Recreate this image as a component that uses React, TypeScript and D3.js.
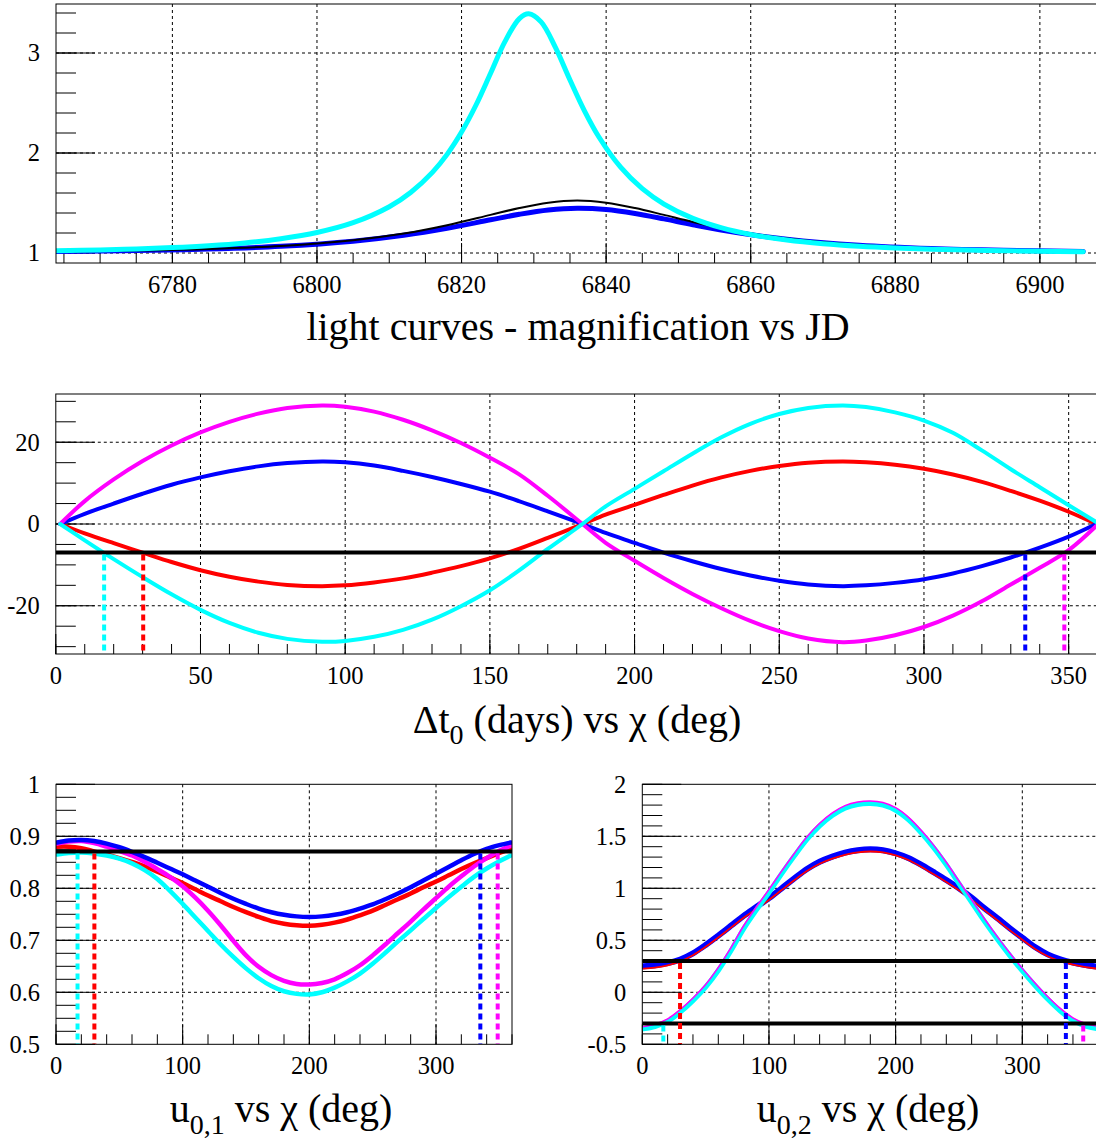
import React from 'react';
import * as d3 from 'd3';

const W = 1096;
const H = 1142;
const FONT = '"Liberation Serif", "Times New Roman", Times, serif';

// ---------- Top panel: light curves ----------
const jdCyan = [6764, 6770, 6775, 6780, 6785, 6790, 6795, 6800, 6805, 6810, 6813, 6816, 6818, 6820, 6822, 6824, 6826, 6828, 6829.3, 6831, 6833, 6835, 6837, 6839, 6842, 6845, 6848, 6852, 6856, 6860, 6865, 6870, 6875, 6880, 6885, 6890, 6895, 6900, 6906];
const magCyan = [1.023, 1.031, 1.041, 1.054, 1.073, 1.101, 1.143, 1.205, 1.303, 1.463, 1.608, 1.809, 1.986, 2.209, 2.48, 2.795, 3.114, 3.344, 3.392, 3.311, 3.053, 2.73, 2.422, 2.16, 1.858, 1.643, 1.489, 1.346, 1.251, 1.185, 1.129, 1.092, 1.067, 1.05, 1.038, 1.029, 1.023, 1.018, 1.013];
const jdModel = [6764, 6775, 6785, 6795, 6805, 6812, 6818, 6824, 6828, 6832, 6836, 6840, 6844, 6848, 6852, 6858, 6865, 6875, 6885, 6895, 6906];
const magBlue = [1.015, 1.024, 1.039, 1.067, 1.118, 1.177, 1.247, 1.332, 1.387, 1.43, 1.448, 1.435, 1.395, 1.341, 1.283, 1.205, 1.138, 1.078, 1.045, 1.027, 1.016];
const magBlack = [1.015, 1.025, 1.041, 1.071, 1.128, 1.195, 1.278, 1.381, 1.45, 1.503, 1.524, 1.503, 1.45, 1.381, 1.31, 1.22, 1.145, 1.08, 1.046, 1.028, 1.017];
const topXTicks = [6780, 6800, 6820, 6840, 6860, 6880, 6900];
const topYTicks = [1, 2, 3];

// ---------- Middle panel: delta t0 vs chi ----------
const chiMid = [1.5, 10, 20, 30, 40, 50, 60, 70, 80, 92, 100, 110, 120, 130, 140, 150, 160, 170, 182, 190, 200, 210, 220, 230, 240, 250, 260, 272, 280, 290, 300, 310, 320, 330, 340, 350, 359.5];
const dtMagenta = [0, 5.6, 10.9, 15.4, 19.2, 22.4, 25.0, 27.0, 28.4, 29.0, 28.7, 27.5, 25.5, 22.9, 19.8, 16.2, 12.2, 6.9, 0, -4.6, -9.0, -13.2, -17.1, -20.6, -23.7, -26.2, -28.0, -28.9, -28.5, -27.2, -25.2, -22.4, -18.9, -14.8, -10.7, -6.4, -0.5];
const dtBlue = [0, 2.5, 5.0, 7.4, 9.6, 11.4, 12.9, 14.1, 14.9, 15.3, 15.1, 14.3, 13.0, 11.5, 9.8, 7.9, 5.6, 3.1, 0, -2.2, -4.6, -7.0, -9.1, -11.0, -12.6, -13.9, -14.8, -15.2, -15.0, -14.4, -13.5, -12.1, -10.3, -8.2, -5.8, -3.1, 0];
const dtRed = [0, -2.3, -4.7, -7.0, -9.3, -11.3, -12.9, -14.1, -14.9, -15.2, -15.0, -14.3, -13.3, -11.9, -10.3, -8.4, -6.1, -3.4, 0, 2.3, 4.7, 7.1, 9.4, 11.4, 13.0, 14.2, 15.0, 15.3, 15.1, 14.5, 13.5, 12.1, 10.3, 8.1, 5.7, 3.0, 0];
const dtCyan = [0, -4.0, -8.6, -13.0, -17.2, -21.0, -24.2, -26.6, -28.1, -28.8, -28.6, -27.6, -25.9, -23.4, -20.1, -16.2, -11.4, -6.1, 0, 4.3, 8.6, 12.9, 17.2, 21.2, 24.5, 26.9, 28.4, 29.0, 28.6, 27.3, 25.3, 22.3, 18.0, 13.4, 9.0, 4.6, 0.5];
const dtLevel = -7;
const dtDropChi = [16.7, 30.2, 335.0, 348.5];
const midXTicks = [0, 50, 100, 150, 200, 250, 300, 350];
const midYTicks = [-20, 0, 20];

// ---------- Bottom-left: u0,1 vs chi ----------
const chiLow = [1, 10, 20, 30, 40, 50, 60, 70, 80, 90, 100, 110, 120, 130, 140, 150, 160, 170, 180, 190, 200, 210, 220, 230, 240, 250, 260, 270, 280, 290, 300, 310, 320, 330, 340, 350, 359];
const u1Blue = [0.888, 0.892, 0.893, 0.891, 0.886, 0.879, 0.87, 0.86, 0.849, 0.838, 0.827, 0.815, 0.803, 0.791, 0.78, 0.77, 0.761, 0.754, 0.749, 0.746, 0.745, 0.746, 0.749, 0.754, 0.761, 0.769, 0.779, 0.79, 0.802, 0.815, 0.828, 0.841, 0.854, 0.866, 0.876, 0.883, 0.888];
const u1Red = [0.88, 0.88, 0.877, 0.871, 0.865, 0.858, 0.851, 0.842, 0.832, 0.821, 0.81, 0.798, 0.786, 0.775, 0.764, 0.754, 0.745, 0.737, 0.732, 0.729, 0.728, 0.73, 0.734, 0.74, 0.748, 0.757, 0.768, 0.779, 0.79, 0.802, 0.813, 0.825, 0.837, 0.848, 0.858, 0.868, 0.876];
const u1Magenta = [0.886, 0.89, 0.891, 0.887, 0.88, 0.872, 0.863, 0.851, 0.837, 0.822, 0.804, 0.782, 0.757, 0.729, 0.699, 0.671, 0.649, 0.633, 0.622, 0.616, 0.615, 0.618, 0.625, 0.637, 0.652, 0.671, 0.692, 0.714, 0.736, 0.759, 0.781, 0.803, 0.823, 0.842, 0.858, 0.872, 0.882];
const u1Cyan = [0.865, 0.868, 0.869, 0.867, 0.863, 0.857, 0.848, 0.835, 0.818, 0.795, 0.77, 0.744, 0.718, 0.692, 0.668, 0.646, 0.627, 0.612, 0.602, 0.597, 0.596, 0.6, 0.609, 0.621, 0.636, 0.655, 0.676, 0.698, 0.719, 0.741, 0.762, 0.783, 0.803, 0.822, 0.838, 0.852, 0.863];
const u1Level = 0.871;
const u1DropChi = [17, 30.3, 335, 348.7];
const lowXTicks = [0, 100, 200, 300];
const u1YTicks = [0.5, 0.6, 0.7, 0.8, 0.9, 1];

// ---------- Bottom-right: u0,2 vs chi ----------
const u2Blue = [0.25, 0.26, 0.28, 0.315, 0.375, 0.455, 0.545, 0.64, 0.735, 0.82, 0.905, 1.0, 1.095, 1.185, 1.255, 1.305, 1.343, 1.366, 1.375, 1.366, 1.337, 1.292, 1.228, 1.155, 1.08, 1.0, 0.91, 0.81, 0.715, 0.618, 0.525, 0.435, 0.365, 0.318, 0.285, 0.262, 0.247];
const u2Red = [0.228, 0.238, 0.26, 0.298, 0.357, 0.437, 0.527, 0.622, 0.716, 0.801, 0.888, 0.983, 1.077, 1.166, 1.236, 1.285, 1.322, 1.345, 1.354, 1.345, 1.317, 1.272, 1.208, 1.135, 1.06, 0.98, 0.89, 0.79, 0.695, 0.598, 0.506, 0.416, 0.347, 0.3, 0.266, 0.242, 0.228];
const u2Cyan = [-0.35, -0.33, -0.28, -0.19, -0.08, 0.05, 0.21, 0.4, 0.61, 0.79, 0.96, 1.14, 1.31, 1.47, 1.6, 1.7, 1.77, 1.806, 1.815, 1.8, 1.75, 1.66, 1.535, 1.39, 1.225, 1.045, 0.865, 0.685, 0.515, 0.355, 0.205, 0.065, -0.065, -0.18, -0.27, -0.325, -0.35];
const u2Magenta = [-0.33, -0.305, -0.255, -0.165, -0.055, 0.075, 0.24, 0.43, 0.64, 0.82, 0.99, 1.165, 1.335, 1.495, 1.625, 1.725, 1.795, 1.83, 1.84, 1.825, 1.775, 1.685, 1.56, 1.415, 1.25, 1.07, 0.89, 0.71, 0.54, 0.38, 0.23, 0.09, -0.04, -0.155, -0.245, -0.3, -0.325];
const u2Levels = [0.3, -0.3];
const u2DropChi = [16.6, 29.8, 334.4, 348.1];
const u2DropLevel = [-0.3, 0.3, 0.3, -0.3];
const u2YTicks = [-0.5, 0, 0.5, 1, 1.5, 2];

const CYAN = '#00ffff';
const MAGENTA = '#ff00ff';
const BLUE = '#0000ff';
const RED = '#ff0000';
const dropColors = [CYAN, RED, BLUE, MAGENTA];

type Series = { xs: number[]; ys: number[]; color: string; width: number };
type Drop = { x: number; from: number; color: string };

type PanelProps = {
  id: string;
  left: number; right: number; top: number; bottom: number;
  xDomain: [number, number]; yDomain: [number, number];
  xMajor: number[]; xMinor: number[]; yMajor: number[]; yMinor: number[];
  xFmt: (v: number) => string; yFmt: (v: number) => string;
  series: Series[]; hLines: number[]; drops: Drop[];
};

function Panel(p: PanelProps) {
  const x = d3.scaleLinear().domain(p.xDomain).range([p.left, p.right]);
  const y = d3.scaleLinear().domain(p.yDomain).range([p.bottom, p.top]);
  const eps = 1e-6;
  const inX = (v: number) => v >= p.xDomain[0] - eps && v <= p.xDomain[1] + eps;
  const inY = (v: number) => v >= p.yDomain[0] - eps && v <= p.yDomain[1] + eps;
  const gridX = p.xMajor.filter((v) => x(v) > p.left + 1 && x(v) < p.right - 1);
  const gridY = p.yMajor.filter((v) => y(v) < p.bottom - 1 && y(v) > p.top + 1);
  const line = (s: Series) =>
    d3.line<number>()
      .x((_, i) => x(s.xs[i]))
      .y((d) => y(d))
      .curve(d3.curveCatmullRom.alpha(0.5))(s.ys) || '';
  return (
    <g>
      <defs>
        <clipPath id={p.id}>
          <rect x={p.left} y={p.top} width={p.right - p.left} height={p.bottom - p.top} />
        </clipPath>
      </defs>
      {gridX.map((v) => (
        <line key={'gx' + v} x1={x(v)} x2={x(v)} y1={p.top} y2={p.bottom} stroke="#000" strokeWidth={1} strokeDasharray="3,3" />
      ))}
      {gridY.map((v) => (
        <line key={'gy' + v} x1={p.left} x2={p.right} y1={y(v)} y2={y(v)} stroke="#000" strokeWidth={1} strokeDasharray="3,3" />
      ))}
      {p.yMinor.filter(inY).map((v) => (
        <line key={'ymi' + v} x1={p.left} x2={p.left + 20} y1={y(v)} y2={y(v)} stroke="#000" strokeWidth={1} />
      ))}
      {p.yMajor.filter(inY).map((v) => (
        <line key={'yma' + v} x1={p.left} x2={p.left + 39} y1={y(v)} y2={y(v)} stroke="#000" strokeWidth={1} />
      ))}
      {p.xMinor.filter(inX).map((v) => (
        <line key={'xmi' + v} x1={x(v)} x2={x(v)} y1={p.bottom} y2={p.bottom - 10} stroke="#000" strokeWidth={1} />
      ))}
      {p.xMajor.filter(inX).map((v) => (
        <line key={'xma' + v} x1={x(v)} x2={x(v)} y1={p.bottom} y2={p.bottom - 20} stroke="#000" strokeWidth={1} />
      ))}
      <g clipPath={`url(#${p.id})`}>
        {p.series.map((s, i) => (
          <path key={'s' + i} d={line(s)} fill="none" stroke={s.color} strokeWidth={s.width} strokeLinejoin="round" strokeLinecap="round" />
        ))}
        {p.hLines.map((v, i) => (
          <line key={'h' + i} x1={p.left} x2={p.right} y1={y(v)} y2={y(v)} stroke="#000" strokeWidth={4} />
        ))}
        {p.drops.map((d, i) => (
          <line key={'d' + i} x1={x(d.x)} x2={x(d.x)} y1={y(d.from) + 2} y2={p.bottom} stroke={d.color} strokeWidth={4} strokeDasharray="6,4" />
        ))}
      </g>
      <rect x={p.left} y={p.top} width={p.right - p.left} height={p.bottom - p.top} fill="none" stroke="#000" strokeWidth={1} />
      {p.yMajor.filter(inY).map((v) => (
        <text key={'yl' + v} x={p.left - 16} y={y(v)} dy="0.34em" textAnchor="end" fontSize={24.5} fontFamily={FONT}>
          {p.yFmt(v)}
        </text>
      ))}
      {p.xMajor.filter(inX).map((v) => (
        <text key={'xl' + v} x={x(v)} y={p.bottom + 30} textAnchor="middle" fontSize={24.5} fontFamily={FONT}>
          {p.xFmt(v)}
        </text>
      ))}
    </g>
  );
}

const fmt = (v: number) => String(v);

export default function App() {
  const top: PanelProps = {
    id: 'clipTop', left: 56, right: 1097, top: 4, bottom: 263,
    xDomain: [6763.9, 6907.9], yDomain: [0.9, 3.49],
    xMajor: topXTicks, xMinor: d3.range(6765, 6910, 5), yMajor: topYTicks, yMinor: d3.range(1.2, 3.5, 0.2),
    xFmt: fmt, yFmt: fmt,
    series: [
      { xs: jdModel, ys: magBlue, color: BLUE, width: 5 },
      { xs: jdModel, ys: magBlack, color: '#000', width: 2 },
      { xs: jdCyan, ys: magCyan, color: CYAN, width: 5 },
    ],
    hLines: [], drops: [],
  };
  const mid: PanelProps = {
    id: 'clipMid', left: 55.8, right: 1097.6, top: 394, bottom: 654,
    xDomain: [0, 360], yDomain: [-31.8, 31.8],
    xMajor: midXTicks, xMinor: d3.range(0, 361, 10), yMajor: midYTicks, yMinor: d3.range(-30, 31, 5),
    xFmt: fmt, yFmt: fmt,
    series: [
      { xs: chiMid, ys: dtRed, color: RED, width: 4 },
      { xs: chiMid, ys: dtBlue, color: BLUE, width: 4 },
      { xs: chiMid, ys: dtMagenta, color: MAGENTA, width: 4 },
      { xs: chiMid, ys: dtCyan, color: CYAN, width: 4 },
    ],
    hLines: [dtLevel],
    drops: dtDropChi.map((c, i) => ({ x: c, from: dtLevel, color: dropColors[i] })),
  };
  const bl: PanelProps = {
    id: 'clipBL', left: 56, right: 512, top: 784.3, bottom: 1044.3,
    xDomain: [0, 360], yDomain: [0.5, 1],
    xMajor: lowXTicks, xMinor: d3.range(0, 361, 20), yMajor: u1YTicks, yMinor: d3.range(0.5, 1.001, 0.025),
    xFmt: fmt, yFmt: (v) => (v === 1 ? '1' : v.toFixed(1)),
    series: [
      { xs: chiLow, ys: u1Red, color: RED, width: 4.5 },
      { xs: chiLow, ys: u1Magenta, color: MAGENTA, width: 4.5 },
      { xs: chiLow, ys: u1Cyan, color: CYAN, width: 4.5 },
      { xs: chiLow, ys: u1Blue, color: BLUE, width: 4.5 },
    ],
    hLines: [u1Level],
    drops: u1DropChi.map((c, i) => ({ x: c, from: u1Level, color: dropColors[i] })),
  };
  const br: PanelProps = {
    id: 'clipBR', left: 642.3, right: 1098.3, top: 784.3, bottom: 1044.3,
    xDomain: [0, 360], yDomain: [-0.5, 2],
    xMajor: lowXTicks, xMinor: d3.range(0, 361, 20), yMajor: u2YTicks, yMinor: d3.range(-0.5, 2.001, 0.1),
    xFmt: fmt, yFmt: fmt,
    series: [
      { xs: chiLow, ys: u2Blue, color: BLUE, width: 6 },
      { xs: chiLow, ys: u2Red, color: RED, width: 1.8 },
      { xs: chiLow, ys: u2Cyan, color: CYAN, width: 5 },
      { xs: chiLow, ys: u2Magenta, color: MAGENTA, width: 1.5 },
    ],
    hLines: u2Levels,
    drops: u2DropChi.map((c, i) => ({ x: c, from: u2DropLevel[i], color: dropColors[i] })),
  };
  return (
    <div style={{ position: 'absolute', left: 0, top: 0 }}>
      <svg width={W} height={H} style={{ display: 'block', background: '#fff' }} fontFamily={FONT}>
        <rect x={0} y={0} width={W} height={H} fill="#fff" />
        <Panel {...top} />
        <Panel {...mid} />
        <Panel {...bl} />
        <Panel {...br} />
        <text x={578} y={340} textAnchor="middle" fontSize={40} fontFamily={FONT}>
          light curves - magnification vs JD
        </text>
        <text x={577} y={733} textAnchor="middle" fontSize={40} fontFamily={FONT}>
          <tspan>Δt</tspan>
          <tspan dy={11} fontSize={28}>0</tspan>
          <tspan dy={-11}> (days) vs χ (deg)</tspan>
        </text>
        <text x={281} y={1122} textAnchor="middle" fontSize={40} fontFamily={FONT}>
          <tspan>u</tspan>
          <tspan dy={12} fontSize={28}>0,1</tspan>
          <tspan dy={-12}> vs χ (deg)</tspan>
        </text>
        <text x={868} y={1122} textAnchor="middle" fontSize={40} fontFamily={FONT}>
          <tspan>u</tspan>
          <tspan dy={12} fontSize={28}>0,2</tspan>
          <tspan dy={-12}> vs χ (deg)</tspan>
        </text>
      </svg>
    </div>
  );
}
